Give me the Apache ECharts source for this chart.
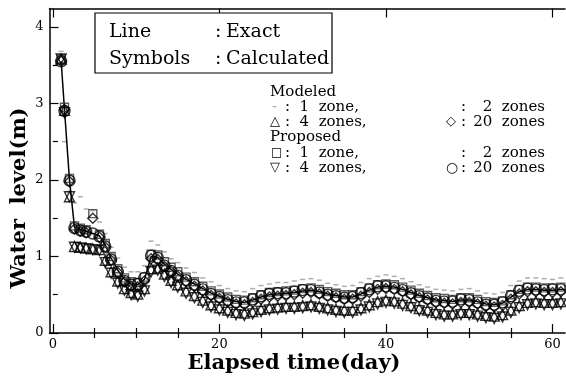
<!DOCTYPE html>
<html><head><meta charset="utf-8">
<script src="https://cdn.jsdelivr.net/npm/echarts@6/dist/echarts.min.js"></script>
<style>html,body{margin:0;padding:0;background:#fff}#c{width:566px;height:381px}</style>
</head><body><div id="c"></div>
<script>
// ---- data ----
const days = [1,1.4,2,2.6,3.3,4,4.8,5.6,6.3,7,7.8,8.6,9.4,10.2,11,11.8,12.6,13.4,14.2,15,
16,17,18,19,20,21,22,23,24,25,26,27,28,29,30,31,32,33,34,35,36,37,38,39,40,41,42,43,44,45,46,47,48,49,50,51,52,53,54,55,56,57,58,59,60,61,62];
const exact = [3.55,2.92,2.00,1.38,1.35,1.33,1.30,1.27,1.15,0.98,0.82,0.70,0.64,0.63,0.70,1.00,0.99,0.90,0.83,0.77,
0.70,0.64,0.58,0.52,0.48,0.44,0.41,0.40,0.43,0.47,0.50,0.51,0.52,0.53,0.55,0.56,0.54,0.51,0.49,0.47,0.47,0.51,0.56,0.60,0.61,0.60,0.57,0.53,0.49,0.46,0.43,0.42,0.41,0.43,0.43,0.41,0.38,0.37,0.39,0.47,0.54,0.57,0.57,0.56,0.56,0.57,0.56];
const proposed20 = [3.55,2.90,1.99,1.37,1.34,1.32,1.30,1.26,1.13,0.96,0.80,0.68,0.63,0.64,0.72,1.01,0.98,0.88,0.81,0.75,
0.69,0.63,0.57,0.51,0.47,0.43,0.40,0.40,0.44,0.48,0.51,0.52,0.52,0.54,0.56,0.56,0.53,0.50,0.48,0.46,0.47,0.52,0.57,0.61,0.61,0.59,0.56,0.52,0.48,0.45,0.42,0.41,0.41,0.44,0.43,0.40,0.37,0.37,0.40,0.48,0.55,0.58,0.57,0.56,0.57,0.57,0.56];
const proposed4 = [3.58,2.88,1.78,1.12,1.11,1.10,1.09,1.08,0.92,0.78,0.65,0.56,0.50,0.48,0.55,0.80,0.82,0.74,0.66,0.60,
0.52,0.46,0.40,0.34,0.30,0.27,0.24,0.23,0.25,0.28,0.30,0.31,0.32,0.32,0.33,0.34,0.32,0.30,0.28,0.27,0.27,0.30,0.34,0.38,0.40,0.39,0.36,0.33,0.29,0.27,0.24,0.22,0.22,0.24,0.24,0.22,0.20,0.19,0.21,0.27,0.33,0.37,0.38,0.37,0.37,0.38,0.37];
const modeled4 = [3.58,2.91,1.78,1.13,1.12,1.11,1.10,1.09,0.95,0.80,0.68,0.58,0.53,0.51,0.58,0.84,0.85,0.77,0.69,0.63,
0.55,0.49,0.43,0.37,0.33,0.30,0.27,0.26,0.28,0.31,0.33,0.34,0.35,0.35,0.36,0.37,0.35,0.33,0.31,0.30,0.30,0.33,0.37,0.41,0.43,0.42,0.39,0.36,0.32,0.30,0.27,0.25,0.25,0.27,0.27,0.25,0.23,0.22,0.24,0.30,0.36,0.40,0.41,0.40,0.40,0.41,0.40];
const modeled20 = [3.55,2.92,1.98,1.36,1.33,1.31,1.50,1.25,1.12,0.95,0.79,0.67,0.61,0.60,0.68,0.97,0.96,0.87,0.80,0.74,
0.67,0.61,0.55,0.49,0.45,0.41,0.38,0.37,0.40,0.44,0.47,0.48,0.49,0.50,0.52,0.53,0.51,0.48,0.46,0.44,0.44,0.48,0.53,0.57,0.58,0.57,0.54,0.50,0.46,0.43,0.40,0.39,0.38,0.40,0.40,0.38,0.35,0.34,0.36,0.44,0.51,0.54,0.54,0.53,0.53,0.54,0.53];
const proposed1 = [3.58,2.95,2.02,1.40,1.37,1.35,1.56,1.29,1.17,1.00,0.84,0.72,0.67,0.66,0.73,1.03,1.02,0.93,0.86,0.80,
0.73,0.67,0.61,0.55,0.51,0.47,0.44,0.43,0.46,0.50,0.53,0.54,0.55,0.56,0.58,0.59,0.57,0.54,0.52,0.50,0.50,0.54,0.59,0.63,0.64,0.63,0.60,0.56,0.52,0.49,0.46,0.45,0.44,0.46,0.46,0.44,0.41,0.40,0.42,0.50,0.57,0.60,0.60,0.59,0.59,0.60,0.59];
const modeled1 = [3.68,2.50,1.85,1.70,1.78,1.62,1.60,1.45,1.30,1.12,0.98,0.86,0.80,0.80,0.88,1.20,1.15,1.06,0.97,0.92,
0.85,0.79,0.72,0.67,0.62,0.58,0.55,0.54,0.58,0.62,0.64,0.66,0.66,0.68,0.70,0.71,0.69,0.65,0.63,0.61,0.62,0.66,0.71,0.74,0.76,0.74,0.71,0.67,0.63,0.60,0.57,0.56,0.55,0.57,0.58,0.55,0.52,0.51,0.53,0.62,0.68,0.72,0.72,0.71,0.70,0.72,0.71];
const xMajor = [0,20,40,60];
const xMinor = [5,10,15,25,30,35,45,50,55];
const yMajor = [0,1,2,3,4];
const yMinor = [0.5,1.5,2.5,3.5];

// ---- chart ----
const SERIF = '"DejaVu Serif", "Liberation Serif", serif';
const pair = v => days.map((d,i)=>[d, v[i]]);
function sc(name, vals, symbol, size, rotate, color){
  return {name, type:'scatter', data:pair(vals), symbol, symbolSize:size, symbolRotate:rotate||0,
    itemStyle:{color:'rgba(255,255,255,0)', borderColor:color||'#000', borderWidth:1.4}, silent:true, z:3};
}
const xBase = {type:'value', min:-0.4, max:61.5, splitLine:{show:false}, gridIndex:0};
const yBase = {type:'value', min:0, max:4.24, splitLine:{show:false}, gridIndex:0};
const axLine = {show:true, onZero:false, lineStyle:{color:'#000', width:1.5}};
const tickStyle = {color:'#000', width:1.2};
const T = (x,y,text,size,extra) => Object.assign({type:'text', z:101, x, y,
  style:Object.assign({text, font:size+'px '+SERIF, fill:'#000', textVerticalAlign:'middle'}, extra||{})});
const option = {
  animation:false,
  backgroundColor:'#fff',
  grid:{left:49.5, right:1, top:8.5, bottom:48, containLabel:false},
  xAxis:[
    Object.assign({}, xBase, {position:'bottom', axisLine:axLine,
      axisTick:{show:true, inside:true, length:9, customValues:xMajor, lineStyle:tickStyle},
      axisLabel:{customValues:xMajor, color:'#000', fontFamily:SERIF, fontSize:13, margin:5}}),
    Object.assign({}, xBase, {position:'bottom', axisLine:{show:false},
      axisTick:{show:true, inside:true, length:5, customValues:xMinor, lineStyle:tickStyle},
      axisLabel:{show:false}}),
    Object.assign({}, xBase, {position:'top', axisLine:axLine,
      axisTick:{show:true, inside:true, length:9, customValues:xMajor, lineStyle:tickStyle},
      axisLabel:{show:false}}),
    Object.assign({}, xBase, {position:'top', axisLine:{show:false},
      axisTick:{show:true, inside:true, length:5, customValues:xMinor, lineStyle:tickStyle},
      axisLabel:{show:false}})
  ],
  yAxis:[
    Object.assign({}, yBase, {position:'left', axisLine:axLine,
      axisTick:{show:true, inside:true, length:9, customValues:yMajor, lineStyle:tickStyle},
      axisLabel:{customValues:yMajor, color:'#000', fontFamily:SERIF, fontSize:13, margin:6}}),
    Object.assign({}, yBase, {position:'left', axisLine:{show:false},
      axisTick:{show:true, inside:true, length:5, customValues:yMinor, lineStyle:tickStyle},
      axisLabel:{show:false}})
  ],
  series:[
    {name:'Exact', type:'line', data:pair(exact), showSymbol:false, symbol:'none',
      lineStyle:{color:'#000', width:1.5}, silent:true, z:2},
    {name:'Modeled 1 zone', type:'scatter', data:pair(modeled1), symbol:'rect', symbolSize:[5,1.5],
      itemStyle:{color:'#9a9a9a'}, silent:true, z:1},
    sc('Proposed 1 zone', proposed1, 'rect', 8, 0, '#333'),
    sc('Modeled 20 zones', modeled20, 'diamond', 10, 0),
    sc('Modeled 4 zones', modeled4, 'triangle', 10, 0),
    sc('Proposed 4 zones', proposed4, 'triangle', 10, 180),
    sc('Proposed 20 zones', proposed20, 'circle', 11, 0)
  ],
  graphic:[
    {type:'rect', z:100, shape:{x:95, y:13, width:237, height:60}, style:{fill:'#fff', stroke:'#000', lineWidth:1.2}},
    T(109,32,'Line',19), T(109,59,'Symbols',19),
    T(215,32,':',19), T(215,59,':',19),
    T(226,32,'Exact',19), T(226,59,'Calculated',19),

    T(270,92,'Modeled',15),
    T(272,107,'-',15,{fill:'#aaa'}), T(285,107,':  1  zone,',15),
    T(461,107,':',15), T(545,107,'2  zones',15,{textAlign:'right'}),
    T(270,122,'△',13,{font:'13px "DejaVu Sans"'}), T(285,122,':  4  zones,',15),
    T(446,122,'◇',13,{font:'13px "DejaVu Sans"'}), T(461,122,':',15), T(545,122,'20  zones',15,{textAlign:'right'}),
    T(270,137,'Proposed',15),
    T(271,153,'□',12,{font:'12px "DejaVu Sans"'}), T(285,153,':  1  zone,',15),
    T(461,153,':',15), T(545,153,'2  zones',15,{textAlign:'right'}),
    T(270,168,'▽',13,{font:'13px "DejaVu Sans"'}), T(285,168,':  4  zones,',15),
    T(446,168,'○',14,{font:'14px "DejaVu Sans"'}), T(461,168,':',15), T(545,168,'20  zones',15,{textAlign:'right'}),

    {type:'text', z:101, x:20, y:198, rotation:Math.PI/2, style:{text:'Water  level(m)', font:'bold 21px '+SERIF, fill:'#000', textAlign:'center', textVerticalAlign:'middle'}},
    {type:'text', z:101, x:294, y:364, style:{text:'Elapsed time(day)', font:'bold 21px '+SERIF, fill:'#000', textAlign:'center', textVerticalAlign:'middle'}}
  ]
};
echarts.init(document.getElementById('c'), null, {renderer:'canvas'}).setOption(option);
</script>
</body></html>
